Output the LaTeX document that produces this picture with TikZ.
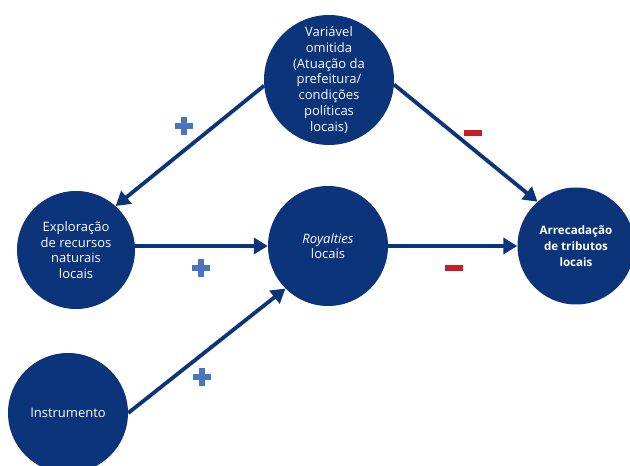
\documentclass[tikz,border=0pt]{standalone}
\usepackage{fontspec}
\setmainfont{Open Sans}
\usetikzlibrary{arrows.meta}

\definecolor{navy}{RGB}{12,52,122}
\definecolor{plusblue}{RGB}{74,116,192}
\definecolor{minusred}{RGB}{196,30,40}

% signs of the effects
\newcommand\possign[1]{%
  \path[fill=plusblue] ($(#1)+(-9,-2.8)$) rectangle ($(#1)+(9,2.8)$);
  \path[fill=plusblue] ($(#1)+(-2.8,-9)$) rectangle ($(#1)+(2.8,9)$);}
\newcommand\negsign[1]{%
  \path[fill=minusred] ($(#1)+(-9,-3)$) rectangle ($(#1)+(9,3)$);}
\usetikzlibrary{calc}

\begin{document}
\begin{tikzpicture}[x=1pt,y=1pt,
    factor/.style={circle,fill=navy,text=white,minimum size=#1,inner sep=0pt,
      align=center,font=\fontsize{13}{15.7}\selectfont},
    link/.style={navy,line width=3.8pt,-{Triangle[length=14pt,width=16pt]}}]
  \useasboundingbox (0,0) rectangle (630,466);

  \node[factor=130pt] (omit) at (329,386) {Variável\\omitida\\(Atuação da\\prefeitura/\\condições\\políticas\\locais)};
  \node[factor=118pt] (explor) at (76,216) {Exploração\\de recursos\\naturais\\locais};
  \node[factor=120pt] (royal) at (328,220) {\itshape Royalties\\locais};
  \node[factor=117pt,font=\fontsize{11.6}{16}\selectfont\bfseries] (arrec) at (576,220) {Arrecadação\\de tributos\\locais};
  \node[factor=120pt] (instr) at (68,53) {Instrumento};

  \draw[link] (omit.185) -- (explor.48);
  \draw[link] (omit.356) -- (arrec.131);
  \draw[link] (explor.east |- royal) -- (royal);
  \draw[link] (royal) -- (arrec);
  \draw[link] (instr.east) -- (royal.225);

  \possign{184,340}
  \negsign{473,333}
  \possign{201,198}
  \negsign{454,198}
  \possign{202,89}
\end{tikzpicture}
\end{document}
